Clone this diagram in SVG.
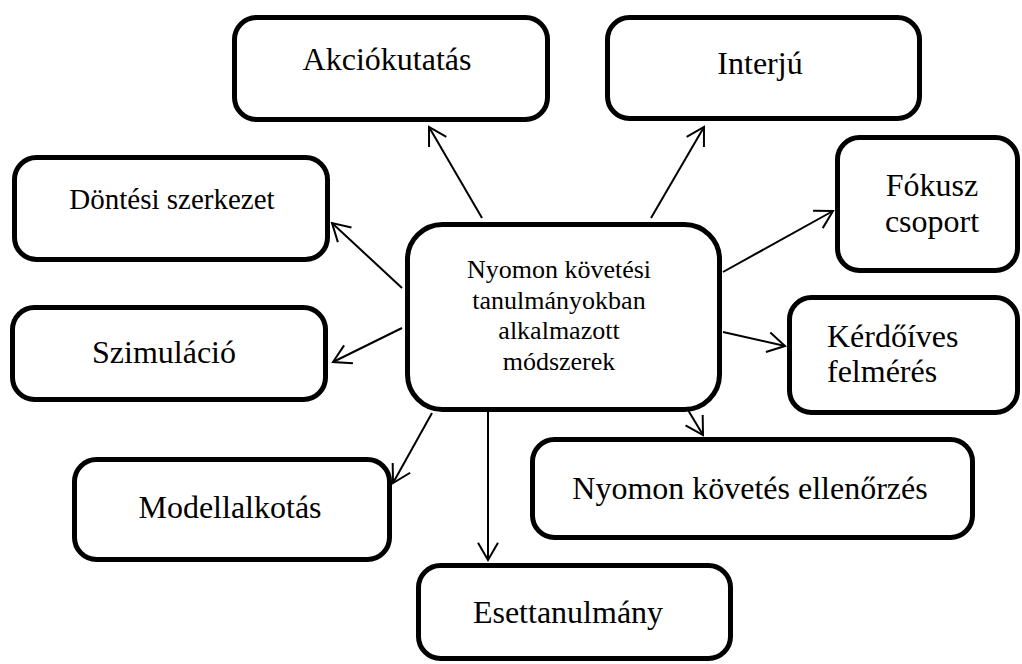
<svg xmlns="http://www.w3.org/2000/svg" width="1022" height="664" viewBox="0 0 1022 664">
<defs>
<style>
.box{fill:#fff;stroke:#000;stroke-width:5}
.t{font-size:32px;fill:#000;text-anchor:middle}
.c{stroke:#000;stroke-width:2;fill:none;marker-end:url(#arr)}
</style>
<marker id="arr" markerUnits="userSpaceOnUse" viewBox="-20 -12 22 24" markerWidth="22" markerHeight="24" refX="0" refY="0" orient="auto">
<path d="M-17.3,-10 L0,0 L-17.3,10" fill="none" stroke="#000" stroke-width="2"/>
</marker>
</defs>
<rect width="1022" height="664" fill="#fff"/>
<g id="connectors">
<line class="c" x1="482" y1="218" x2="429" y2="127"/>
<line class="c" x1="651" y1="218" x2="704" y2="127"/>
<line class="c" x1="402" y1="288" x2="332" y2="223"/>
<line class="c" x1="402" y1="328" x2="333" y2="362"/>
<line class="c" x1="723" y1="272" x2="833" y2="211"/>
<line class="c" x1="723" y1="332" x2="785" y2="346"/>
<line class="c" x1="688" y1="410" x2="703" y2="435"/>
<line class="c" x1="488" y1="412" x2="488" y2="560"/>
<line class="c" x1="432" y1="413" x2="393" y2="483"/>
</g>
<g font-family="'Liberation Serif', 'DejaVu Serif', serif">
<g id="center">
<rect class="box" x="407.5" y="224.5" width="312" height="185" rx="35"/>
<text class="t" style="font-size:26px" x="559" y="278">Nyomon követési</text>
<text class="t" style="font-size:26px" x="559" y="308.5">tanulmányokban</text>
<text class="t" style="font-size:26px" x="559" y="339">alkalmazott</text>
<text class="t" style="font-size:26px" x="559" y="369.5">módszerek</text>
</g>
<g id="akciokutatas">
<rect class="box" x="234.5" y="17.5" width="313" height="102" rx="22"/>
<text class="t" x="387" y="70">Akciókutatás</text>
</g>
<g id="interju">
<rect class="box" x="607.5" y="17.5" width="312" height="101" rx="22"/>
<text class="t" x="760" y="74">Interjú</text>
</g>
<g id="dontesi">
<rect class="box" x="14.5" y="157.5" width="313" height="102" rx="22"/>
<text class="t" style="font-size:29px" x="172" y="209">Döntési szerkezet</text>
</g>
<g id="szimulacio">
<rect class="box" x="12.5" y="307.5" width="313" height="92" rx="22"/>
<text class="t" x="164" y="363">Szimuláció</text>
</g>
<g id="fokusz">
<rect class="box" x="837.5" y="137.5" width="180" height="133" rx="22"/>
<text class="t" x="932" y="196">Fókusz</text>
<text class="t" x="932" y="232">csoport</text>
</g>
<g id="kerdoives">
<rect class="box" x="789.5" y="297.5" width="228" height="115" rx="22"/>
<text class="t" style="text-anchor:start" x="827" y="347">Kérdőíves</text>
<text class="t" style="text-anchor:start" x="827" y="382">felmérés</text>
</g>
<g id="modellalkotas">
<rect class="box" x="74.5" y="459.5" width="315" height="100" rx="22"/>
<text class="t" x="230" y="518">Modellalkotás</text>
</g>
<g id="ellenorzes">
<rect class="box" x="532.5" y="439.5" width="440" height="98" rx="22"/>
<text class="t" x="750" y="499">Nyomon követés ellenőrzés</text>
</g>
<g id="esettanulmany">
<rect class="box" x="418.5" y="565.5" width="312" height="93" rx="22"/>
<text class="t" x="568" y="623">Esettanulmány</text>
</g>
</g>
</svg>
